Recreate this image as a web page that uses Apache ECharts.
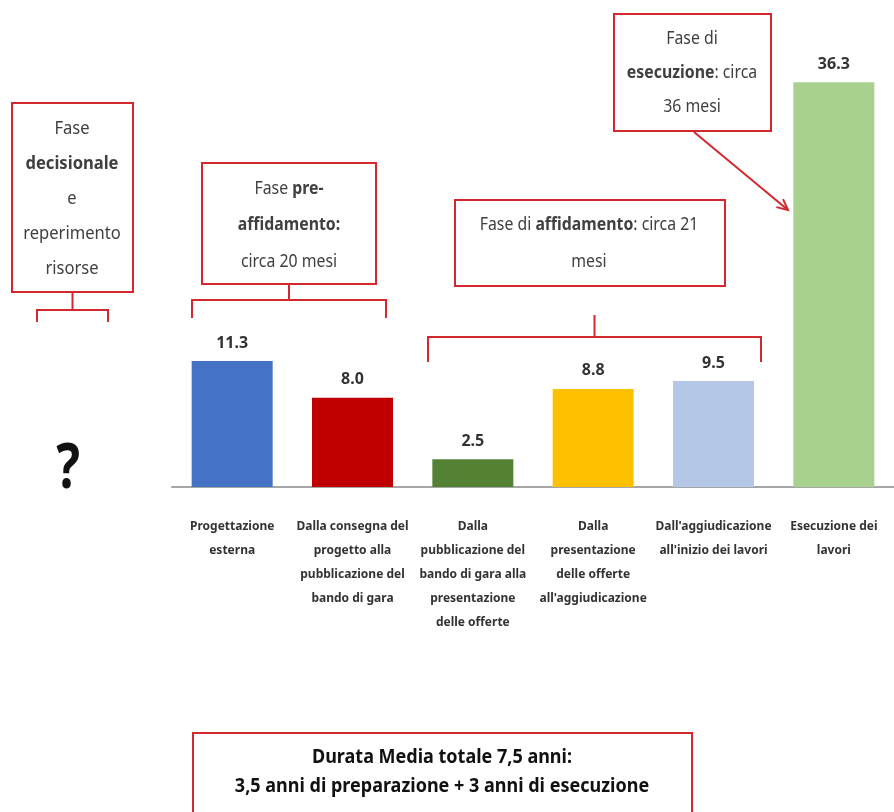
<!DOCTYPE html>
<html>
<head>
<meta charset="utf-8">
<title>Durata media</title>
<script src="https://cdn.jsdelivr.net/npm/echarts@6/dist/echarts.min.js"></script>
<style>
  html, body { margin: 0; padding: 0; background: #fff; }
  #main { width: 894px; height: 812px; }
</style>
</head>
<body>
<div id="main"></div>
<script>
// dati
var categorie = [
  'Progettazione\nesterna',
  'Dalla consegna del\nprogetto alla\npubblicazione del\nbando di gara',
  'Dalla\npubblicazione del\nbando di gara alla\npresentazione\ndelle offerte',
  'Dalla\npresentazione\ndelle offerte\nall\'aggiudicazione',
  'Dall\'aggiudicazione\nall\'inizio dei lavori',
  'Esecuzione dei\nlavori'
];
var mesi = [11.3, 8.0, 2.5, 8.8, 9.5, 36.3];
var colori = ['#4472C4', '#C00000', '#548235', '#FFC000', '#B4C7E7', '#A9D18E'];

var FONT = '"Noto Sans", sans-serif';
var ROSSO = '#D2282E';
var TESTO = '#404040';

function box(x, y, w, h) {
  return { type: 'rect', shape: { x: x, y: y, width: w, height: h },
    style: { fill: '#fff', stroke: ROSSO, lineWidth: 2 } };
}
// testo stretto (scaleX) per imitare un carattere condensato
function riga(x, y, txt, size, sx) {
  var s = size || 18;
  return { type: 'text', x: x, y: y, scaleX: sx || 0.88, style: {
    x: 0, y: 0, text: txt, align: 'center', verticalAlign: 'middle',
    font: s + 'px ' + FONT, fill: TESTO,
    rich: {
      n: { fontFamily: FONT, fontSize: s, color: TESTO },
      b: { fontFamily: FONT, fontSize: s, fontWeight: 'bold', color: '#222' }
    }
  } };
}
// parentesi: orizzontale x1..x2 a y, estremi fino a yEnd, punta fino a yTop
function graffa(x1, x2, y, yEnd, yTop) {
  var c = (x1 + x2) / 2;
  return [
    { type: 'polyline', shape: { points: [[x1, yEnd], [x1, y], [x2, y], [x2, yEnd]] },
      style: { stroke: ROSSO, lineWidth: 2, fill: null } },
    { type: 'line', shape: { x1: c, y1: y, x2: c, y2: yTop },
      style: { stroke: ROSSO, lineWidth: 2 } }
  ];
}
function freccia(x1, y1, x2, y2) {
  var a = Math.atan2(y2 - y1, x2 - x1), L = 12, w = 0.45;
  return [
    { type: 'line', shape: { x1: x1, y1: y1, x2: x2, y2: y2 },
      style: { stroke: ROSSO, lineWidth: 2 } },
    { type: 'polyline', shape: { points: [
        [x2 - L * Math.cos(a - w), y2 - L * Math.sin(a - w)],
        [x2, y2],
        [x2 - L * Math.cos(a + w), y2 - L * Math.sin(a + w)]] },
      style: { stroke: ROSSO, lineWidth: 2, fill: null } }
  ];
}

var grafica = [];
// fase decisionale
grafica.push(box(12, 103, 121, 189));
grafica.push(riga(72, 129, '{n|Fase}', 18, 0.92));
grafica.push(riga(72, 164, '{b|decisionale}', 18, 0.92));
grafica.push(riga(72, 199, '{n|e}', 18, 0.92));
grafica.push(riga(72, 234, '{n|reperimento}', 18, 0.92));
grafica.push(riga(72, 269, '{n|risorse}', 18, 0.92));
grafica = grafica.concat(graffa(37, 108, 310, 322, 292));
grafica.push({ type: 'text', x: 68, y: 470, scaleX: 0.8, style: { x: 0, y: 0, text: '?',
  align: 'center', verticalAlign: 'middle', font: 'bold 62px ' + FONT, fill: '#111' } });
// pre-affidamento
grafica.push(box(202, 163, 174, 121));
grafica.push(riga(289, 189, '{n|Fase }{b|pre-}'));
grafica.push(riga(289, 225, '{b|affidamento:}'));
grafica.push(riga(289, 262, '{n|circa 20 mesi}'));
grafica = grafica.concat(graffa(192, 386, 300, 318, 284));
// affidamento
grafica.push(box(455, 200, 270, 86));
grafica.push(riga(589, 225, '{n|Fase di }{b|affidamento}{n|: circa 21}'));
grafica.push(riga(589, 262, '{n|mesi}'));
grafica = grafica.concat(graffa(428, 761, 337, 362, 315));
// esecuzione
grafica.push(box(614, 14, 157, 117));
grafica.push(riga(692, 39, '{n|Fase di}'));
grafica.push(riga(692, 73, '{b|esecuzione}{n|: circa}'));
grafica.push(riga(692, 107, '{n|36 mesi}'));
grafica = grafica.concat(freccia(694, 132, 788, 210));
// riepilogo
grafica.push(box(193, 733, 499, 90));
grafica.push({ type: 'text', x: 442, y: 757, scaleX: 0.9, style: { x: 0, y: 0,
  text: 'Durata Media totale 7,5 anni:', align: 'center', verticalAlign: 'middle',
  font: 'bold 20px ' + FONT, fill: '#111' } });
grafica.push({ type: 'text', x: 442, y: 786, scaleX: 0.9, style: { x: 0, y: 0,
  text: '3,5 anni di preparazione + 3 anni di esecuzione', align: 'center',
  verticalAlign: 'middle', font: 'bold 20px ' + FONT, fill: '#111' } });

var chart = echarts.init(document.getElementById('main'));
chart.setOption({
  animation: false,
  grid: { left: 172, right: 0, top: 41, bottom: 325 },
  xAxis: {
    type: 'category',
    data: categorie,
    axisLine: { lineStyle: { color: '#A6A6A6', width: 2 } },
    axisTick: { length: 6, lineStyle: { color: '#A6A6A6' } },
    axisLabel: { interval: 0, margin: 28, lineHeight: 24, fontFamily: FONT,
      fontSize: 12, fontWeight: 'bold', color: '#333' }
  },
  yAxis: {
    type: 'value', min: 0, max: 40, show: false,
    splitLine: { show: false }
  },
  series: [{
    type: 'bar',
    barWidth: 81,
    data: mesi.map(function (v, i) { return { value: v, itemStyle: { color: colori[i] } }; }),
    label: {
      show: true, position: 'top', distance: 10,
      formatter: function (p) { return p.value.toFixed(1); },
      fontFamily: FONT, fontSize: 16, fontWeight: 'bold', color: '#333'
    }
  }],
  graphic: grafica
});
</script>
</body>
</html>
